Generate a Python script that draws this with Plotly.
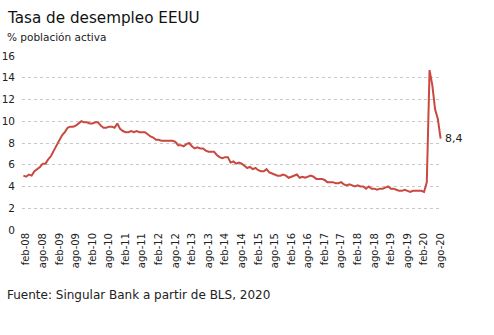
import plotly.graph_objects as go

meses = ["ene", "feb", "mar", "abr", "may", "jun", "jul", "ago", "sep", "oct", "nov", "dic"]
anios = list(range(2008, 2021))
categorias = [f"{m}-{str(a)[2:]}" for a in anios for m in meses][:152]

desempleo = [
    5.0, 4.9, 5.1, 5.0, 5.4, 5.6, 5.8, 6.1, 6.1, 6.5, 6.8, 7.3,
    7.8, 8.3, 8.7, 9.0, 9.4, 9.5, 9.5, 9.6, 9.8, 10.0, 9.9, 9.9,
    9.8, 9.8, 9.9, 9.9, 9.6, 9.4, 9.4, 9.5, 9.5, 9.4, 9.8, 9.3,
    9.1, 9.0, 9.0, 9.1, 9.0, 9.1, 9.0, 9.0, 9.0, 8.8, 8.6, 8.5,
    8.3, 8.3, 8.2, 8.2, 8.2, 8.2, 8.2, 8.1, 7.8, 7.8, 7.7, 7.9,
    8.0, 7.7, 7.5, 7.6, 7.5, 7.5, 7.3, 7.2, 7.2, 7.2, 6.9, 6.7,
    6.6, 6.7, 6.7, 6.2, 6.3, 6.1, 6.2, 6.1, 5.9, 5.7, 5.8, 5.6,
    5.7, 5.5, 5.4, 5.4, 5.6, 5.3, 5.2, 5.1, 5.0, 5.0, 5.1, 5.0,
    4.8, 4.9, 5.0, 5.1, 4.8, 4.9, 4.8, 4.9, 5.0, 4.9, 4.7, 4.7,
    4.7, 4.6, 4.4, 4.4, 4.4, 4.3, 4.3, 4.4, 4.2, 4.1, 4.2, 4.1,
    4.0, 4.1, 4.0, 4.0, 3.8, 4.0, 3.8, 3.8, 3.7, 3.8, 3.8, 3.9,
    4.0, 3.8, 3.8, 3.7, 3.6, 3.6, 3.7, 3.6, 3.5, 3.6, 3.6, 3.6,
    3.6, 3.5, 4.4, 14.7, 13.3, 11.1, 10.2, 8.4,
]

etiquetas_x = [c for c in categorias if c.startswith("feb") or c.startswith("ago")]
ticks_y = [0, 2, 4, 6, 8, 10, 12, 14, 16]

FONT = "DejaVu Sans"
ROJO = "#c9483f"

W, H = 494, 335
ML, MR, MT, MB = 22, 52, 56, 105
PW, PH = W - ML - MR, H - MT - MB


def px(x):
    return (x - ML) / PW


def py(y):
    return (H - MB - y) / PH


fig = go.Figure()
fig.add_trace(go.Scatter(
    x=categorias, y=desempleo, mode="lines",
    line=dict(color=ROJO, width=2), hoverinfo="skip",
))

fig.add_annotation(
    x=categorias[-1], y=desempleo[-1], text=f"{desempleo[-1]:.1f}".replace(".", ","),
    showarrow=False, xanchor="left", yanchor="middle", xshift=2,
    font=dict(family=FONT, size=11, color="#222"),
)

fig.update_layout(
    width=W, height=H,
    margin=dict(l=ML, r=MR, t=MT, b=MB, autoexpand=False),
    paper_bgcolor="white", plot_bgcolor="white",
    showlegend=False,
    font=dict(family=FONT, color="#222"),
)

fig.add_annotation(
    text="Tasa de desempleo EEUU", xref="paper", yref="paper",
    x=px(5), y=py(18), xanchor="left", yanchor="middle", showarrow=False,
    font=dict(family=FONT, size=15.2, color="#111"),
)
fig.add_annotation(
    text="% población activa", xref="paper", yref="paper",
    x=px(5), y=py(37), xanchor="left", yanchor="middle", showarrow=False,
    font=dict(family=FONT, size=10.5, color="#222"),
)
fig.add_annotation(
    text="Fuente: Singular Bank a partir de BLS, 2020", xref="paper", yref="paper",
    x=px(5), y=py(295), xanchor="left", yanchor="middle", showarrow=False,
    font=dict(family=FONT, size=12, color="#222"),
)

fig.update_xaxes(
    type="category", categoryorder="array", categoryarray=categorias,
    range=[-0.5, len(categorias) - 0.5], automargin=False,
    tickmode="array", tickvals=etiquetas_x, ticktext=etiquetas_x,
    tickangle=-90, tickfont=dict(family=FONT, size=10, color="#222"),
    showgrid=False, showline=False, ticks="", zeroline=False,
)
fig.update_yaxes(
    range=[0, 16], tickmode="array", tickvals=ticks_y, automargin=False,
    tickfont=dict(family=FONT, size=10.5, color="#222"),
    showgrid=True, gridcolor="#c8c8c8", griddash="dot", gridwidth=1,
    zeroline=False, showline=False, ticks="", ticklabelstandoff=6,
)

fig.write_html("out.html")
